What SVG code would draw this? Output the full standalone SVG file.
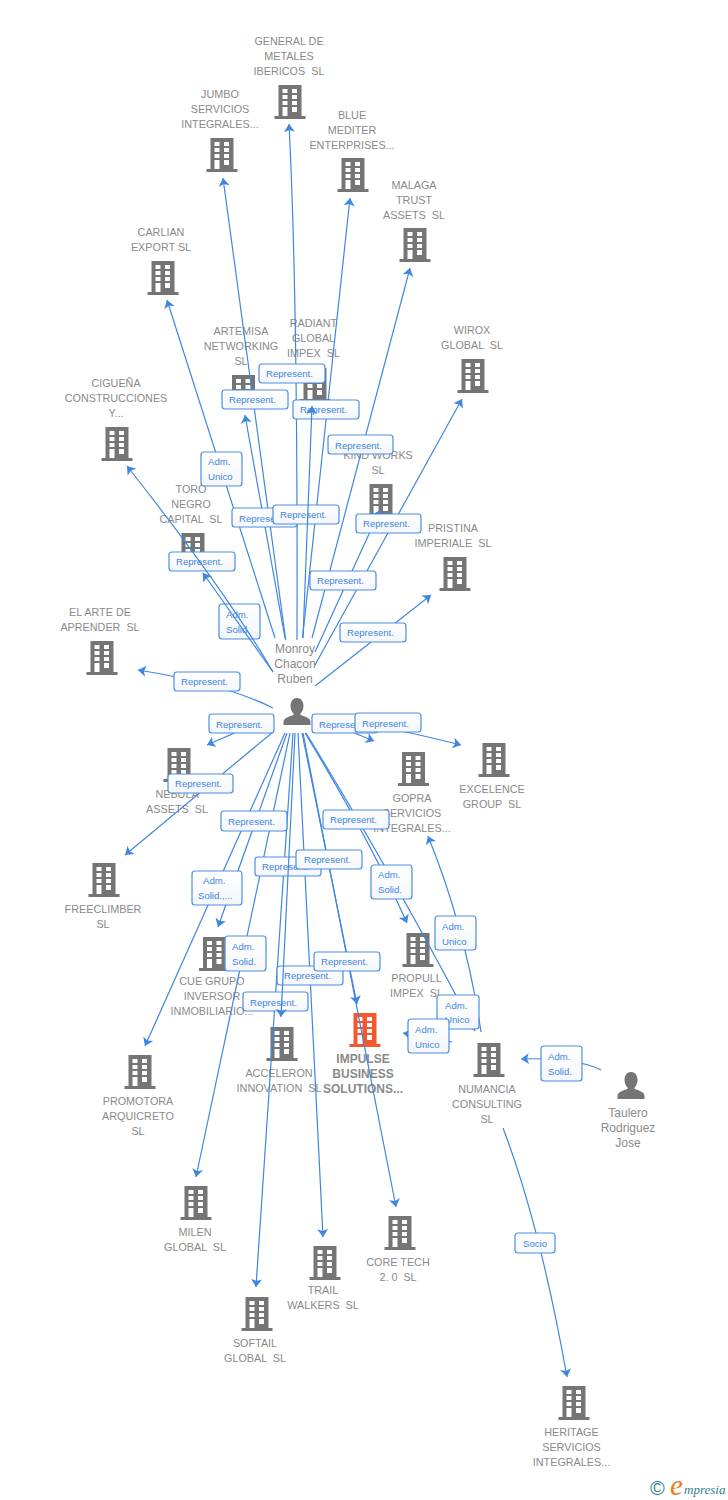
<svg xmlns="http://www.w3.org/2000/svg" width="728" height="1500" viewBox="0 0 728 1500">
<style>
text{font-family:"Liberation Sans",Arial,sans-serif;white-space:pre}
.n text{font-size:10.8px;fill:#8a8a8a;text-anchor:middle}
.p text{font-size:12px;fill:#8a8a8a;text-anchor:middle}
.n use,.p use{fill:#757575}
#n-impulse text{font-size:12px;font-weight:bold}
#n-impulse use{fill:#f4582c}
.e{fill:none;stroke:#3f86e2;stroke-width:1.2;marker-end:url(#ah)}
.b rect{fill:url(#bg);stroke:#4a8ee4;stroke-width:1.2}
.b text{font-size:9.6px;fill:#3f86e2}
</style>
<defs>
<linearGradient id="bg" x1="0" y1="0" x2="0" y2="1"><stop offset="0" stop-color="#ffffff"/><stop offset="1" stop-color="#f4f6fa"/></linearGradient>
<marker id="ah" markerUnits="userSpaceOnUse" markerWidth="16" markerHeight="16" refX="8" refY="6" orient="auto" viewBox="0 0 16 12"><path d="M8,6 L0,0.5 L2,6 L0,11.5 Z" fill="#3f86e2"/></marker>
<symbol id="bld" overflow="visible"><path fill-rule="evenodd" d="M4,0H27V31H31V34H0V31H4ZM8,4V8H13V4ZM17.500,4V8H22.500V4ZM8,10V14H13V10ZM17.500,10V14H22.500V10ZM8,16V20H13V16ZM17.500,16V20H22.500V16ZM8,22V31H13V22ZM17.500,22V27H22.500V22Z"/></symbol>
<symbol id="per" overflow="visible"><path d="M13.500,0C17.500,0 20,3.500 20,8C20,11.500 18.500,14 17,15.500V17C21,18.500 27,19.500 27,24V27H0V24C0,19.500 6,18.500 10,17V15.500C8.500,14 7,11.500 7,8C7,3.500 9.500,0 13.500,0Z"/></symbol>
</defs>
<g id="n-general" class="n"><use href="#bld" x="274.500" y="85"/><text x="289" y="45">GENERAL DE</text><text x="289" y="60">METALES</text><text x="289" y="75">IBERICOS  SL</text></g>
<g id="n-jumbo" class="n"><use href="#bld" x="206.500" y="138"/><text x="220" y="98">JUMBO</text><text x="220" y="113">SERVICIOS</text><text x="220" y="128">INTEGRALES...</text></g>
<g id="n-blue" class="n"><use href="#bld" x="337.500" y="158"/><text x="352" y="119">BLUE</text><text x="352" y="134">MEDITER</text><text x="352" y="149">ENTERPRISES...</text></g>
<g id="n-malaga" class="n"><use href="#bld" x="399.500" y="228"/><text x="414" y="189">MALAGA</text><text x="414" y="204">TRUST</text><text x="414" y="219">ASSETS  SL</text></g>
<g id="n-carlian" class="n"><use href="#bld" x="147.500" y="261"/><text x="161" y="236">CARLIAN</text><text x="161" y="251">EXPORT SL</text></g>
<g id="n-wirox" class="n"><use href="#bld" x="457.500" y="359"/><text x="472" y="334">WIROX</text><text x="472" y="349">GLOBAL  SL</text></g>
<g id="n-artemisa" class="n"><use href="#bld" x="228" y="375"/><text x="241" y="335">ARTEMISA</text><text x="241" y="350">NETWORKING</text><text x="241" y="365">SL</text></g>
<g id="n-radiant" class="n"><use href="#bld" x="299.500" y="368"/><text x="313.500" y="327">RADIANT</text><text x="313.500" y="342">GLOBAL</text><text x="313.500" y="357">IMPEX  SL</text></g>
<g id="n-ciguena" class="n"><use href="#bld" x="101.500" y="427"/><text x="116" y="387">CIGUEÑA</text><text x="116" y="402">CONSTRUCCIONES</text><text x="116" y="417">Y...</text></g>
<g id="n-kind" class="n"><use href="#bld" x="365.500" y="484"/><text x="378" y="459">KIND WORKS</text><text x="378" y="474">SL</text></g>
<g id="n-toro" class="n"><use href="#bld" x="177.500" y="533"/><text x="191" y="493">TORO</text><text x="191" y="508">NEGRO</text><text x="191" y="523">CAPITAL  SL</text></g>
<g id="n-pristina" class="n"><use href="#bld" x="439.500" y="557"/><text x="453" y="532">PRISTINA</text><text x="453" y="547">IMPERIALE  SL</text></g>
<g id="n-elarte" class="n"><use href="#bld" x="86.500" y="641"/><text x="100" y="616">EL ARTE DE</text><text x="100" y="631">APRENDER  SL</text></g>
<g id="n-nebula" class="n"><use href="#bld" x="163.500" y="748"/><text x="177" y="798">NEBULA</text><text x="177" y="813">ASSETS  SL</text></g>
<g id="n-gopra" class="n"><use href="#bld" x="398" y="752"/><text x="412" y="802">GOPRA</text><text x="412" y="817">SERVICIOS</text><text x="412" y="832">INTEGRALES...</text></g>
<g id="n-excelence" class="n"><use href="#bld" x="478.500" y="743"/><text x="492" y="793">EXCELENCE</text><text x="492" y="808">GROUP  SL</text></g>
<g id="n-freeclimber" class="n"><use href="#bld" x="88.500" y="863"/><text x="103" y="913">FREECLIMBER</text><text x="103" y="928">SL</text></g>
<g id="n-cue" class="n"><use href="#bld" x="199" y="937"/><text x="212" y="985">CUE GRUPO</text><text x="212" y="1000">INVERSOR</text><text x="212" y="1015">INMOBILIARIO...</text></g>
<g id="n-propull" class="n"><use href="#bld" x="402.500" y="933"/><text x="416.500" y="982">PROPULL</text><text x="416.500" y="997">IMPEX  SL</text></g>
<g id="n-acceleron" class="n"><use href="#bld" x="266.500" y="1027"/><text x="279" y="1077">ACCELERON</text><text x="279" y="1092">INNOVATION  SL</text></g>
<g id="n-impulse" class="n"><use href="#bld" x="349.500" y="1013"/><text x="363" y="1063">IMPULSE</text><text x="363" y="1078">BUSINESS</text><text x="363" y="1093">SOLUTIONS...</text></g>
<g id="n-numancia" class="n"><use href="#bld" x="473.500" y="1043"/><text x="487" y="1093">NUMANCIA</text><text x="487" y="1108">CONSULTING</text><text x="487" y="1123">SL</text></g>
<g id="n-promotora" class="n"><use href="#bld" x="124.500" y="1055"/><text x="138" y="1105">PROMOTORA</text><text x="138" y="1120">ARQUICRETO</text><text x="138" y="1135">SL</text></g>
<g id="n-milen" class="n"><use href="#bld" x="180.500" y="1186"/><text x="195" y="1236">MILEN</text><text x="195" y="1251">GLOBAL  SL</text></g>
<g id="n-trail" class="n"><use href="#bld" x="309.500" y="1246"/><text x="323" y="1294">TRAIL</text><text x="323" y="1309">WALKERS  SL</text></g>
<g id="n-core" class="n"><use href="#bld" x="384.500" y="1216"/><text x="398" y="1266">CORE TECH</text><text x="398" y="1281">2. 0  SL</text></g>
<g id="n-softail" class="n"><use href="#bld" x="241.500" y="1297"/><text x="255" y="1347">SOFTAIL</text><text x="255" y="1362">GLOBAL  SL</text></g>
<g id="n-heritage" class="n"><use href="#bld" x="558.500" y="1386"/><text x="571.500" y="1436">HERITAGE</text><text x="571.500" y="1451">SERVICIOS</text><text x="571.500" y="1466">INTEGRALES...</text></g>
<g id="n-monroy" class="p"><use href="#per" x="283.500" y="698"/><text x="295" y="653">Monroy</text><text x="295" y="668">Chacon</text><text x="295" y="683">Ruben</text></g>
<g id="n-taulero" class="p"><use href="#per" x="617.500" y="1072"/><text x="628" y="1117">Taulero</text><text x="628" y="1132">Rodriguez</text><text x="628" y="1147">Jose</text></g>
<g id="connectors">
<path class="e" d="M275,638L167,300"/>
<path class="e" d="M285.700,640L223,178"/>
<path class="e" d="M297,640Q298,300 289,124"/>
<path class="e" d="M302.500,638L350,198"/>
<path class="e" d="M312,638L410,268"/>
<path class="e" d="M315,652L380,510"/>
<path class="e" d="M315,665L462,399"/>
<path class="e" d="M285,638L245,415"/>
<path class="e" d="M315,686L431,595"/>
<path class="e" d="M273,708Q225,684 138,670"/>
<path class="e" d="M273,716L207,745"/>
<path class="e" d="M273,732L125,855"/>
<path class="e" d="M315,717L374,741"/>
<path class="e" d="M315,717Q370,722 461,745"/>
<path class="e" d="M285,733L145,1046"/>
<path class="e" d="M287,733L218,927"/>
<path class="e" d="M290,733L196,1177"/>
<path class="e" d="M293,733L256,1287"/>
<path class="e" d="M298,733L323,1237"/>
<path class="e" d="M302,733L357,1004"/>
<path class="e" d="M303,733L396,1207"/>
<path class="e" d="M305,733Q370,840 407,923"/>
<path class="e" d="M306,733Q390,870 475,1031"/>
<path class="e" d="M481,1032Q466,930 428,836"/>
<path class="e" d="M452,1042L403,1033"/>
<path class="e" d="M601,1070Q575,1057 521,1059"/>
<path class="e" d="M503,1128Q540,1225 567,1377"/>
<g class="b"><rect x="259" y="364" width="66" height="19" rx="3"/><text x="266" y="377">Represent.</text></g>
<g class="b"><rect x="222" y="390" width="66" height="19" rx="3"/><text x="229" y="403">Represent.</text></g>
<g class="b"><rect x="293" y="400" width="66" height="19" rx="3"/><text x="300" y="413">Represent.</text></g>
<g class="b"><rect x="328" y="435" width="65" height="19" rx="3"/><text x="335" y="449">Represent.</text></g>
<g class="b"><rect x="201" y="452" width="41" height="34" rx="3"/><text x="208" y="465">Adm.</text><text x="208" y="480">Unico</text></g>
<g class="b"><rect x="232" y="508" width="65" height="19" rx="3"/><text x="239" y="522">Represent.</text></g>
<g class="b"><rect x="273" y="505" width="66" height="19" rx="3"/><text x="280" y="518">Represent.</text></g>
<path class="e" d="M303,638L312,406"/>
<g class="b"><rect x="356" y="514" width="65" height="19" rx="3"/><text x="363" y="527">Represent.</text></g>
<g class="b"><rect x="169" y="552" width="66" height="19" rx="3"/><text x="176" y="565">Represent.</text></g>
<g class="b"><rect x="310" y="571" width="66" height="19" rx="3"/><text x="317" y="584">Represent.</text></g>
<g class="b"><rect x="219" y="604" width="41" height="35" rx="3"/><text x="226" y="618">Adm.</text><text x="226" y="633">Solid.</text></g>
<path class="e" d="M273,672Q225,590 127,466"/>
<path class="e" d="M273,672L203,573"/>
<g class="b"><rect x="340" y="623" width="66" height="19" rx="3"/><text x="347" y="636">Represent.</text></g>
<g class="b"><rect x="174" y="672" width="66" height="19" rx="3"/><text x="181" y="685">Represent.</text></g>
<g class="b"><rect x="209" y="714" width="65" height="19" rx="3"/><text x="216" y="728">Represent.</text></g>
<g class="b"><rect x="312" y="714" width="66" height="19" rx="3"/><text x="319" y="728">Represent.</text></g>
<g class="b"><rect x="355" y="713" width="66" height="19" rx="3"/><text x="362" y="727">Represent.</text></g>
<g class="b"><rect x="168" y="774" width="65" height="19" rx="3"/><text x="175" y="787">Represent.</text></g>
<g class="b"><rect x="221" y="811" width="66" height="20" rx="3"/><text x="228" y="825">Represent.</text></g>
<g class="b"><rect x="323" y="810" width="66" height="19" rx="3"/><text x="330" y="823">Represent.</text></g>
<g class="b"><rect x="255" y="857" width="66" height="19" rx="3"/><text x="262" y="870">Represent.</text></g>
<g class="b"><rect x="296" y="850" width="66" height="19" rx="3"/><text x="304" y="863">Represent.</text></g>
<g class="b"><rect x="192" y="871" width="50" height="34" rx="3"/><text x="203" y="884">Adm.</text><text x="198" y="899">Solid.,...</text></g>
<g class="b"><rect x="371" y="865" width="41" height="34" rx="3"/><text x="378" y="878">Adm.</text><text x="378" y="893">Solid.</text></g>
<g class="b"><rect x="435" y="916" width="41" height="34" rx="3"/><text x="442" y="930">Adm.</text><text x="442" y="945">Unico</text></g>
<g class="b"><rect x="225" y="936" width="41" height="35" rx="3"/><text x="232" y="950">Adm.</text><text x="232" y="965">Solid.</text></g>
<g class="b"><rect x="277" y="966" width="66" height="19" rx="3"/><text x="284" y="979">Represent.</text></g>
<g class="b"><rect x="314" y="952" width="66" height="19" rx="3"/><text x="321" y="965">Represent.</text></g>
<g class="b"><rect x="243" y="992" width="65" height="19" rx="3"/><text x="250" y="1006">Represent.</text></g>
<path class="e" d="M295,733L281,1017"/>
<g class="b"><rect x="437" y="995" width="42" height="34" rx="3"/><text x="445" y="1009">Adm.</text><text x="445" y="1023">Unico</text></g>
<g class="b"><rect x="408" y="1019" width="41" height="34" rx="3"/><text x="415" y="1033">Adm.</text><text x="415" y="1048">Unico</text></g>
<g class="b"><rect x="541" y="1046" width="41" height="35" rx="3"/><text x="548" y="1060">Adm.</text><text x="548" y="1075">Solid.</text></g>
<g class="b"><rect x="515" y="1233" width="40" height="20" rx="3"/><text x="523" y="1247">Socio</text></g>
</g>
<g id="logo">
<text x="650" y="1495" style="font-size:20px;fill:#2f7f93">©</text>
<text x="670" y="1495" style="font-size:29px;font-style:italic;fill:#f07d1a;font-family:'Liberation Serif',serif">e</text>
<text x="684" y="1494" style="font-size:13px;font-style:italic;fill:#2f7f93;font-family:'Liberation Serif',serif">mpresia</text>
</g>
</svg>
